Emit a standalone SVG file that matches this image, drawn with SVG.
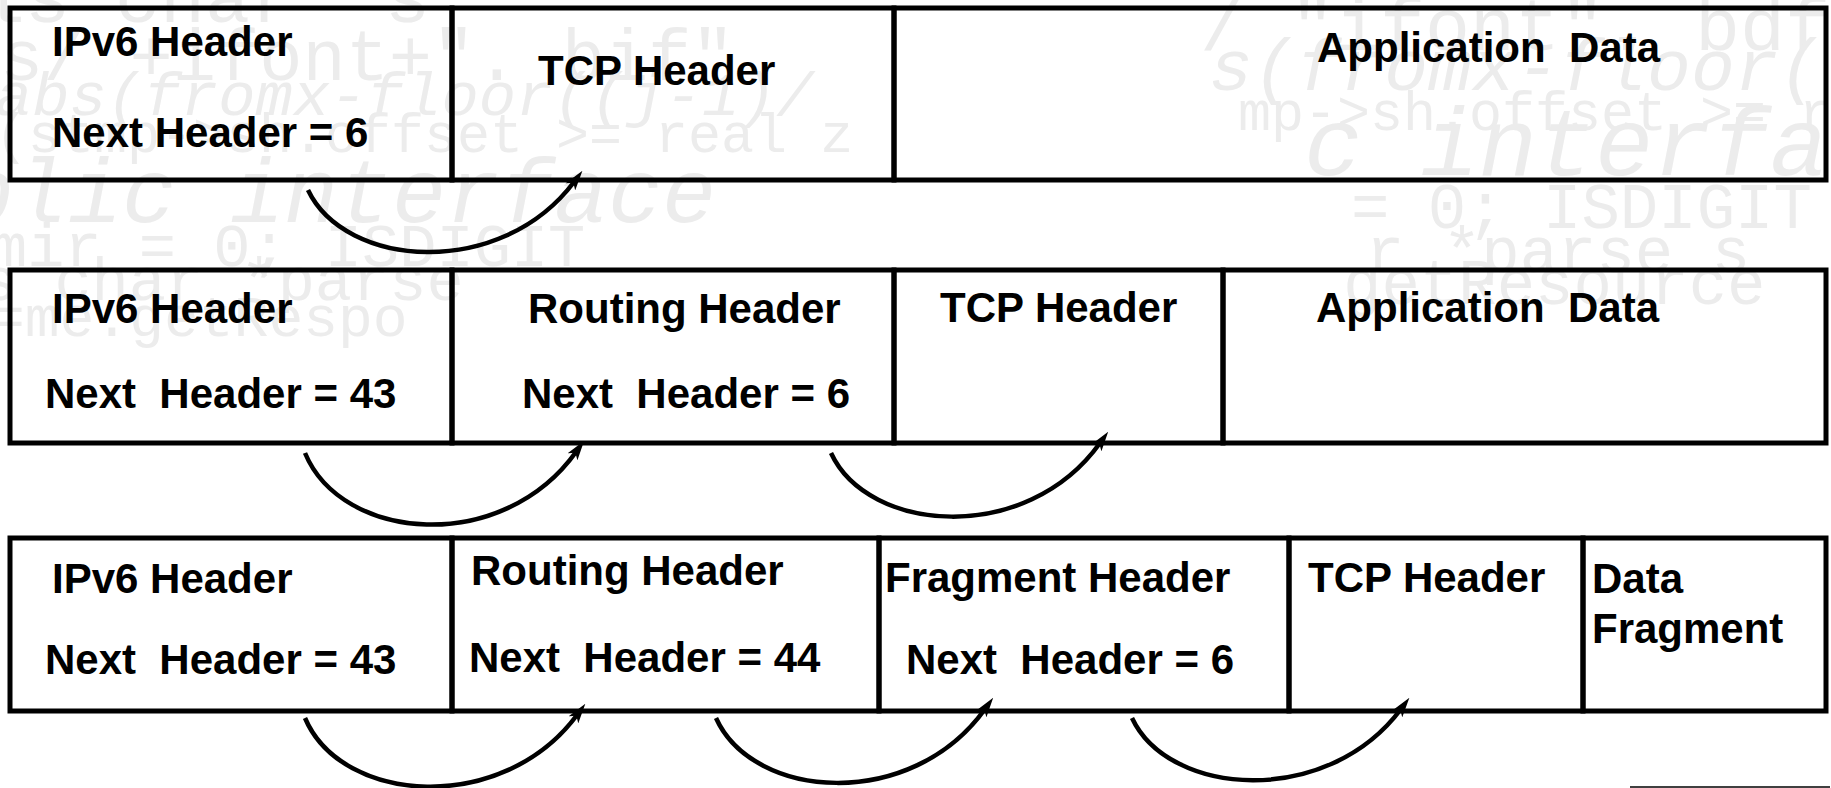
<svg xmlns="http://www.w3.org/2000/svg" width="1831" height="788" viewBox="0 0 1831 788">
<defs>
<style>
.wm{font-family:"Liberation Mono","DejaVu Sans Mono",monospace;fill:#ececec;white-space:pre}
.wi{font-style:italic}
.box{fill:none;stroke:#000;stroke-width:5}
.lbl{font-family:"Liberation Sans",Arial,sans-serif;font-weight:bold;font-size:42px;fill:#000;white-space:pre}
.arr{fill:none;stroke:#000;stroke-width:4.5;marker-end:url(#ah)}
</style>
<marker id="ah" viewBox="0 0 20 12" refX="6" refY="6" markerWidth="20" markerHeight="12" markerUnits="userSpaceOnUse" orient="auto">
<path d="M0,0 L20,6 L0,12 L5,6 Z" fill="#000"/>
</marker>
</defs>
<rect width="1831" height="788" fill="#fff"/>
<g id="watermark">
<text class="wm" x="-20" y="22" font-size="75">ls char *s</text>
<text class="wm" x="0" y="80" font-size="72">s/ +ifont+". bif"</text>
<text class="wm wi" x="-5" y="115" font-size="62">abs(fromx-floor((j-1)/</text>
<text class="wm" x="-5" y="152" font-size="55">(stmp-&gt;sh.offset &gt;= real z</text>
<text class="wm wi" x="-40" y="222" font-size="90">blic interface</text>
<text class="wm" x="-10" y="266" font-size="62">mir = 0; ISDIGIT</text>
<text class="wm" x="-20" y="300" font-size="62">s char *parse</text>
<text class="wm" x="-10" y="336" font-size="58">=me.getRespo</text>
<text class="wm" x="1200" y="50" font-size="75">/ "ifont". bdf</text>
<text class="wm wi" x="1209" y="90" font-size="73">s(fromx-floor(</text>
<text class="wm" x="1238" y="130" font-size="55">mp-&gt;sh.offset &gt;= r</text>
<text class="wm wi" x="1304" y="175" font-size="97">c interfa</text>
<text class="wm" x="1351" y="228" font-size="64">= 0; ISDIGIT</text>
<text class="wm" x="1366" y="272" font-size="64">r *parse s</text>
<text class="wm" x="1343" y="304" font-size="64">getResource</text>
</g>
<g id="row1">
<g id="r1-ipv6"><rect class="box" x="10" y="8" width="442" height="172"/><text class="lbl" x="52" y="56">IPv6 Header</text><text class="lbl" x="52" y="147">Next Header = 6</text></g>
<g id="r1-tcp"><rect class="box" x="452" y="8" width="442" height="172"/><text class="lbl" x="538" y="85">TCP Header</text></g>
<g id="r1-data"><rect class="box" x="894" y="8" width="932" height="172"/><text class="lbl" x="1317" y="62">Application  Data</text></g>
</g>
<g id="row2">
<g id="r2-ipv6"><rect class="box" x="10" y="270" width="442" height="173"/><text class="lbl" x="52" y="323">IPv6 Header</text><text class="lbl" x="45" y="408">Next  Header = 43</text></g>
<g id="r2-routing"><rect class="box" x="452" y="270" width="442" height="173"/><text class="lbl" x="528" y="323">Routing Header</text><text class="lbl" x="522" y="408">Next  Header = 6</text></g>
<g id="r2-tcp"><rect class="box" x="894" y="270" width="329" height="173"/><text class="lbl" x="940" y="322">TCP Header</text></g>
<g id="r2-data"><rect class="box" x="1223" y="270" width="603" height="173"/><text class="lbl" x="1316" y="322">Application  Data</text></g>
</g>
<g id="row3">
<g id="r3-ipv6"><rect class="box" x="10" y="538" width="442" height="173"/><text class="lbl" x="52" y="593">IPv6 Header</text><text class="lbl" x="45" y="674">Next  Header = 43</text></g>
<g id="r3-routing"><rect class="box" x="452" y="538" width="427" height="173"/><text class="lbl" x="471" y="585">Routing Header</text><text class="lbl" x="469" y="672">Next  Header = 44</text></g>
<g id="r3-fragment"><rect class="box" x="879" y="538" width="410" height="173"/><text class="lbl" x="885" y="592">Fragment Header</text><text class="lbl" x="906" y="674">Next  Header = 6</text></g>
<g id="r3-tcp"><rect class="box" x="1289" y="538" width="294" height="173"/><text class="lbl" x="1308" y="592">TCP Header</text></g>
<g id="r3-data"><rect class="box" x="1583" y="538" width="243" height="173"/><text class="lbl" x="1592" y="593">Data</text><text class="lbl" x="1592" y="643">Fragment</text></g>
</g>
<g id="connectors">
<path class="arr" d="M308,190 C345,268 500,280 574,182"/>
<path class="arr" d="M305,453 C342,542 502,555 576,452"/>
<path class="arr" d="M831,453 C868,533 1026,546 1100,443"/>
<path class="arr" d="M305,718 C342,805 503,815 577,715"/>
<path class="arr" d="M716,718 C753,800 911,812 985,709"/>
<path class="arr" d="M1132,718 C1169,797 1327,808 1401,709"/>
</g>
<line x1="1630" y1="787" x2="1830" y2="787" stroke="#000" stroke-width="1.5"/>
</svg>
